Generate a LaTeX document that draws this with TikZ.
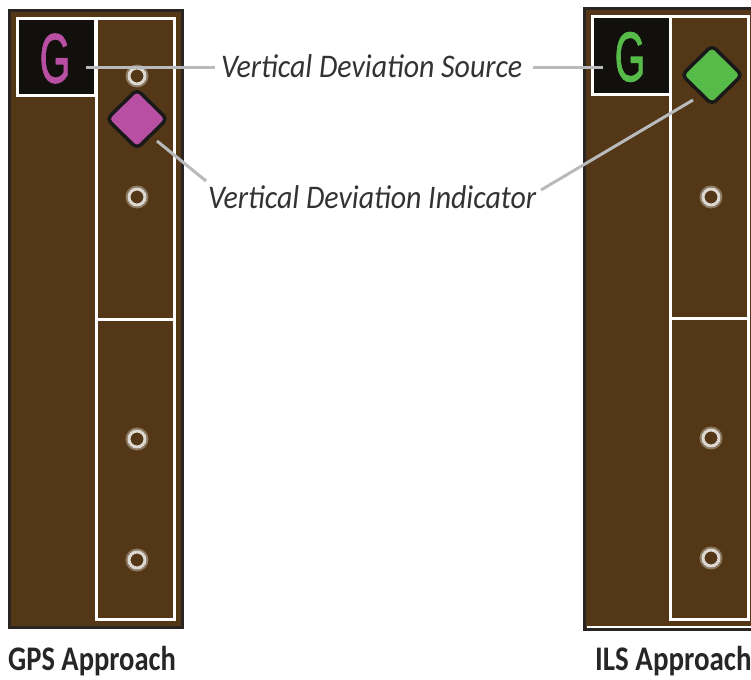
\documentclass[tikz,border=0pt]{standalone}
\usepackage{fontspec}
\setmainfont{Carlito}
\newfontfamily\gfont[FakeBold=1.6]{Liberation Sans}
\definecolor{brownfill}{HTML}{533716}
\definecolor{paneledge}{HTML}{2A2522}
\definecolor{glyphbox}{HTML}{12100C}
\definecolor{leader}{HTML}{B9BABC}
\definecolor{magentafill}{HTML}{B94FA3}
\definecolor{greenfill}{HTML}{57BB4A}
\definecolor{ringgrey}{HTML}{DDD9D2}
\tikzset{
  x=1pt,y=-1pt,
  panelbox/.style={fill=brownfill,draw=paneledge,line width=3pt},
  frameline/.style={draw=white,line width=3pt},
  glyphsquare/.style={fill=glyphbox,draw=white,line width=3pt},
  leaderline/.style={draw=leader,line width=3pt},
  ringmark/.style={circle,draw=ringgrey,line width=3pt,minimum size=16pt,inner sep=0pt},
  ringhalo/.style={circle,draw=ringgrey!40!brownfill,line width=2pt,minimum size=21pt,inner sep=0pt},
  diamondmark/.style={draw=black!90,line width=3.5pt,line join=round,rounded corners=5pt},
  calloutlabel/.style={font=\fontsize{33}{36}\selectfont\itshape,text=black!80,inner sep=0pt,anchor=base west},
  caption/.style={font=\fontsize{34.5}{38}\selectfont\bfseries,text=black!85,inner sep=0pt,anchor=base west},
  glyphtext/.style={inner sep=0pt,font=\gfont\fontsize{40}{40}\selectfont},
}
\begin{document}
\begin{tikzpicture}
\path[use as bounding box] (0,0) rectangle (751,679);
% left panel
\draw[panelbox] (9.5,10.5) rectangle (182.5,627.5);
\draw[glyphsquare] (17.5,19) rectangle (95.5,96);
\draw[frameline] (96.5,19) rectangle (174.5,619.5);
\draw[frameline] (96.5,319.5) -- (174.5,319.5);
\node[glyphtext,text=magentafill] (gleft) at (55,58.5) {\scalebox{0.98}[1.75]{G}};
\foreach \n/\y in {a/76,b/197,c/439,d/560}{
  \node[ringhalo] at (137,\y) {};
  \node[ringmark] (l\n) at (137,\y) {};
}
\draw[diamondmark,fill=magentafill] (137,89.5) -- (167,119) -- (137,148.5) -- (107,119) -- cycle;
\coordinate (dleft) at (157,141);
% right panel
\clip (0,0) rectangle (751,679);
\draw[panelbox] (768,8.5) -- (584.5,8.5) -- (584.5,629.5) -- (768,629.5);
\fill[brownfill] (586,10) rectangle (768,628);
\draw[draw=white,line width=1.5pt] (587,626.8) -- (751,626.8);
\draw[glyphsquare] (592.5,16.5) rectangle (670.5,94.5);
\draw[frameline] (670.5,16.5) rectangle (748.5,619);
\draw[frameline] (670.5,318) -- (748.5,318);
\node[glyphtext,text=greenfill] (gright) at (630,57) {\scalebox{0.98}[1.75]{G}};
\foreach \n/\y in {b/197,c/438,d/558}{
  \node[ringhalo] at (711,\y) {};
  \node[ringmark] (r\n) at (711,\y) {};
}
\draw[diamondmark,fill=greenfill] (712,45.5) -- (742,75) -- (712,104.5) -- (682,75) -- cycle;
\coordinate (dright) at (693,100);
% labels
\node[calloutlabel] (src) at (221,78) {\scalebox{0.906}[1]{Vertical Deviation Source}};
\node[calloutlabel] (ind) at (208,208) {\scalebox{0.906}[1]{Vertical Deviation Indicator}};
\node[caption] (gps) at (8,670) {\scalebox{0.827}[1]{GPS Approach}};
\node[caption] (ils) at (595,670) {\scalebox{0.84}[1]{ILS Approach}};
% connectors
\coordinate (srcl) at (215,68);
\coordinate (srcr) at (533,68);
\coordinate (gl) at (86,68);
\coordinate (gr) at (603,68);
\coordinate (indl) at (206,181);
\coordinate (indr) at (541,190);
\draw[leaderline] (gl) -- (srcl);
\draw[leaderline] (srcr) -- (gr);
\draw[leaderline] (dleft) -- (indl);
\draw[leaderline] (indr) -- (dright);
\end{tikzpicture}
\end{document}
